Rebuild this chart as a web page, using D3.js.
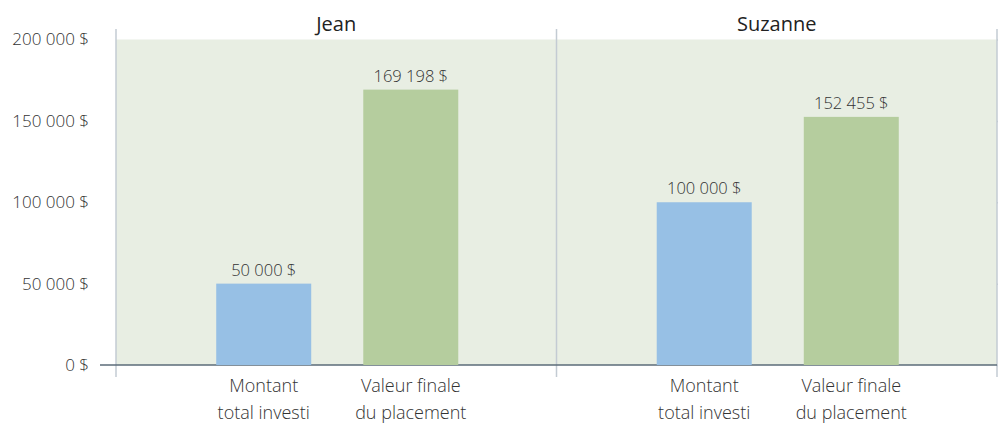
<!DOCTYPE html>
<html>
<head>
<meta charset="utf-8">
<script src="https://cdn.jsdelivr.net/npm/d3@7"></script>
<style>
  body { margin: 0; background: #fff; }
  svg text { font-family: "Open Sans", sans-serif; font-weight: 300; }
</style>
</head>
<body>
<div id="chart"></div>
<script>
// Data.
const people = ["Jean", "Suzanne"];
const categories = ["Montant total investi", "Valeur finale du placement"];
const categoryLines = [["Montant", "total investi"], ["Valeur finale", "du placement"]];
const invested = [50000, 100000];
const finalValue = [169198, 152455];
const yTicks = [0, 50000, 100000, 150000, 200000];
const colors = ["#97c0e5", "#b5cd9e"];

const locale = d3.formatLocale({
  decimal: ",",
  thousands: "\u00a0",
  grouping: [3],
  currency: ["", "\u00a0$"],
});
const fmt = locale.format("$,.0f");

const rows = people.map((p, i) => ({
  person: p,
  values: [invested[i], finalValue[i]],
}));

// Margin convention.
const W = 998, H = 423;
const margin = { top: 39.5, right: 1, bottom: 58, left: 116 };
const width = W - margin.left - margin.right;
const height = H - margin.top - margin.bottom;

const svg = d3.select("#chart")
  .append("svg")
  .attr("width", W)
  .attr("height", H)
  .append("g")
  .attr("transform", `translate(${margin.left}, ${margin.top})`);

// Scales.
const xPanel = d3.scaleBand().domain(people).range([0, width]);
const xInner = d3.scaleBand()
  .domain(categories)
  .range([2, xPanel.bandwidth()])
  .paddingInner(0.354)
  .paddingOuter(0.668);
const yScale = d3.scaleLinear().domain([0, 200000]).range([height, 0]);

// Background.
svg.append("rect")
  .attr("width", width)
  .attr("height", height)
  .attr("fill", "#e8eee3");

// Y axis with gridlines.
const yAxis = d3.axisLeft(yScale)
  .tickValues(yTicks)
  .tickFormat(fmt)
  .tickSizeInner(-width - 16)
  .tickSizeOuter(0);

const yAxisDraw = svg.append("g")
  .attr("transform", `translate(${width}, 0)`)
  .call(yAxis);
yAxisDraw.select(".domain").remove();
yAxisDraw.selectAll(".tick line")
  .attr("stroke", "#c3cbd3")
  .attr("stroke-width", 1.5);
yAxisDraw.selectAll(".tick text")
  .attr("x", -width - 27)
  .attr("fill", "#333")
  .style("font-size", "17px");

// Panel separators.
const seps = [0, xPanel(people[1]), width];
svg.append("g")
  .selectAll("line")
  .data(seps)
  .join("line")
  .attr("x1", (d) => d)
  .attr("x2", (d) => d)
  .attr("y1", -10.5)
  .attr("y2", height + 12)
  .attr("stroke", "#c3cbd3")
  .attr("stroke-width", 1.5);

// Baseline.
svg.append("line")
  .attr("x1", -16)
  .attr("x2", width)
  .attr("y1", yScale(0))
  .attr("y2", yScale(0))
  .attr("stroke", "#5b6b78")
  .attr("stroke-width", 1.5);

// Panels.
const panels = svg.selectAll(".panel")
  .data(rows)
  .join("g")
  .attr("class", "panel")
  .attr("transform", (d) => `translate(${xPanel(d.person)}, 0)`);

panels.append("text")
  .attr("x", xPanel.bandwidth() / 2)
  .attr("y", -9)
  .attr("text-anchor", "middle")
  .attr("fill", "#222")
  .style("font-size", "20px")
  .style("font-weight", 400)
  .text((d) => d.person);

const bars = panels.selectAll(".bar")
  .data((d) => d.values.map((v, i) => ({ cat: categories[i], value: v, i })))
  .join("g")
  .attr("class", "bar");

bars.append("rect")
  .attr("x", (d) => xInner(d.cat))
  .attr("y", (d) => yScale(d.value))
  .attr("width", xInner.bandwidth())
  .attr("height", (d) => yScale(0) - yScale(d.value))
  .attr("fill", (d) => colors[d.i]);

bars.append("text")
  .attr("x", (d) => xInner(d.cat) + xInner.bandwidth() / 2)
  .attr("y", (d) => yScale(d.value) - 8)
  .attr("text-anchor", "middle")
  .attr("fill", "#333")
  .style("font-size", "16.5px")
  .text((d) => fmt(d.value));

const catLabels = bars.append("text")
  .attr("text-anchor", "middle")
  .attr("fill", "#333")
  .style("font-size", "18px");

catLabels.selectAll("tspan")
  .data((d) => categoryLines[d.i].map((t) => ({ t, x: xInner(d.cat) + xInner.bandwidth() / 2 })))
  .join("tspan")
  .attr("x", (d) => d.x)
  .attr("y", (d, j) => height + 26.5 + j * 27)
  .text((d) => d.t);
</script>
</body>
</html>
